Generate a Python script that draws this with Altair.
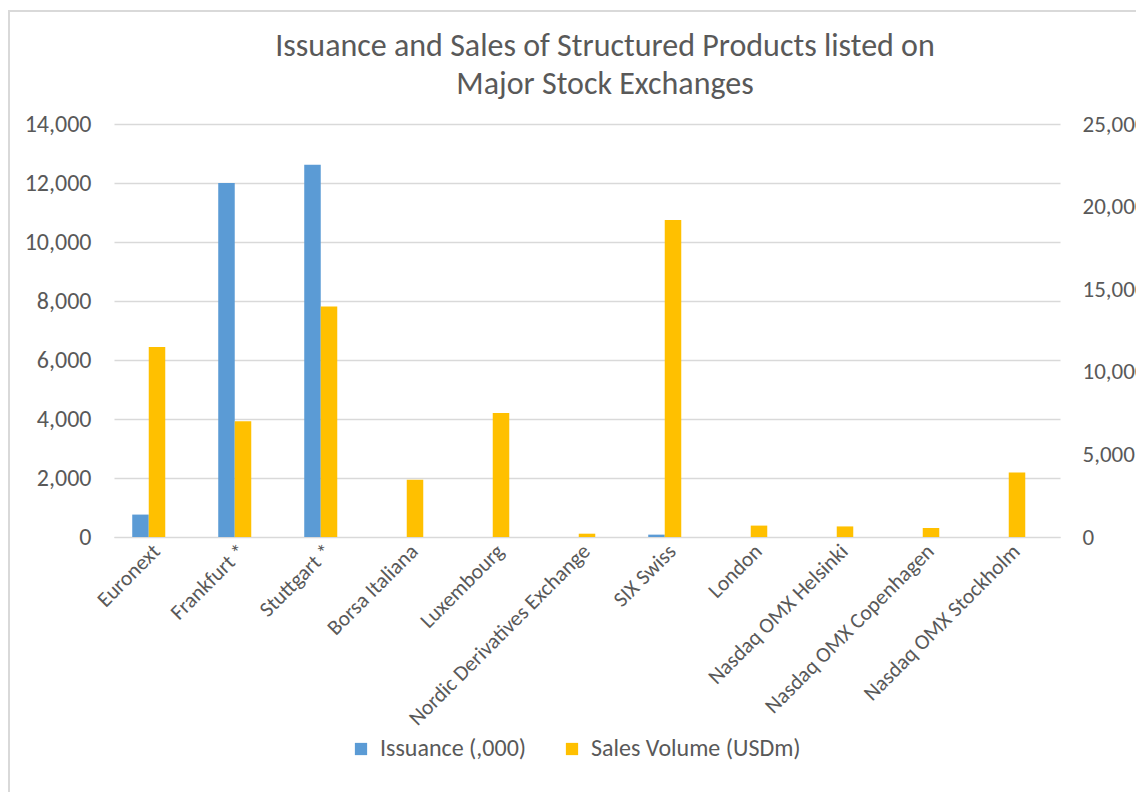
import altair as alt
import pandas as pd

exchanges = ["Euronext", "Frankfurt *", "Stuttgart *", "Borsa Italiana", "Luxembourg",
             "Nordic Derivatives Exchange", "SIX Swiss", "London", "Nasdaq OMX Helsinki",
             "Nasdaq OMX Copenhagen", "Nasdaq OMX Stockholm"]
issuance = [760, 12000, 12620, 0, 0, 0, 80, 0, 0, 0, 0]
sales = [11500, 7000, 13950, 3470, 7500, 200, 19190, 690, 640, 545, 3910]
series_names = ["Issuance (,000)", "Sales Volume (USDm)"]
left_ticks = [0, 2000, 4000, 6000, 8000, 10000, 12000, 14000]
right_ticks = [0, 5000, 10000, 15000, 20000, 25000]

rows = []
for ex, a, b in zip(exchanges, issuance, sales):
    rows.append({"exchange": ex, "series": series_names[0], "value": a})
    rows.append({"exchange": ex, "series": series_names[1], "value": b})
df = pd.DataFrame(rows)

FONT = "Calibri, Carlito, Lato, sans-serif"
TXT = "#595959"
GRID = "#D9D9D9"
W, H = 946, 413

x_enc = alt.X("exchange:N", sort=exchanges, title=None,
              scale=alt.Scale(paddingInner=0.424, paddingOuter=0.212),
              axis=alt.Axis(labelAngle=-45, labelAlign="right", labelBaseline="middle",
                            labelPadding=11, ticks=False, domain=True, domainColor=GRID,
                            labelFont=FONT, labelFontSize=21.5, labelColor=TXT, labelLimit=400))
xoff = alt.XOffset("series:N", scale=alt.Scale(domain=series_names + ["_blank"],
                                               paddingInner=0, paddingOuter=0))
color = alt.Color("series:N", title=None,
                  scale=alt.Scale(domain=series_names, range=["#5B9BD5", "#FFC000"]),
                  legend=alt.Legend(orient="none", legendX=235, legendY=613, direction="horizontal",
                                    symbolType="square", symbolSize=150, symbolStrokeWidth=0,
                                    labelFont=FONT, labelFontSize=24, labelColor=TXT,
                                    labelOffset=7, columnPadding=33, labelLimit=400))

left = alt.Chart(df).transform_filter(alt.datum.series == series_names[0]).mark_bar().encode(
    x=x_enc, xOffset=xoff, color=color,
    y=alt.Y("value:Q", title=None, scale=alt.Scale(domain=[0, 14000], nice=False),
            axis=alt.Axis(values=left_ticks, format=",.0f", orient="left", domain=False, ticks=False,
                          grid=True, gridColor=GRID, gridWidth=1.3, labelPadding=23,
                          labelFont=FONT, labelFontSize=24, labelColor=TXT)))

right = alt.Chart(df).transform_filter(alt.datum.series == series_names[1]).mark_bar().encode(
    x=x_enc, xOffset=xoff, color=color,
    y=alt.Y("value:Q", title=None, scale=alt.Scale(domain=[0, 25000], nice=False),
            axis=alt.Axis(values=right_ticks, format=",.0f", orient="right", domain=False, ticks=False,
                          grid=False, labelPadding=22, labelAlign="left",
                          labelFont=FONT, labelFontSize=23, labelColor=TXT)))

frame_df = pd.DataFrame({"k": [0]})
frame_left = alt.Chart(frame_df).mark_rule(color=GRID, strokeWidth=2).encode(
    x=alt.value(-105), y=alt.value(-114), y2=alt.value(H + 260))
frame_top = alt.Chart(frame_df).mark_rule(color=GRID, strokeWidth=2).encode(
    x=alt.value(-106), x2=alt.value(W + 100), y=alt.value(-113))

chart = alt.layer(left, right, frame_left, frame_top).resolve_scale(
    y="independent", color="shared", xOffset="shared"
).properties(
    width=W, height=H,
    title=alt.TitleParams(["Issuance and Sales of Structured Products listed on", "Major Stock Exchanges"],
                          font=FONT, fontSize=32, fontWeight="normal", color=TXT,
                          anchor="middle", dx=18, dy=92, offset=0, lineHeight=38),
    padding={"left": 106, "top": 116, "right": 76, "bottom": 255},
    autosize=alt.AutoSizeParams(type="none"),
).configure_view(stroke=None).configure_axis(labelOverlap=False)

chart.save("out.html", embed_options={"renderer": "svg", "actions": False})
